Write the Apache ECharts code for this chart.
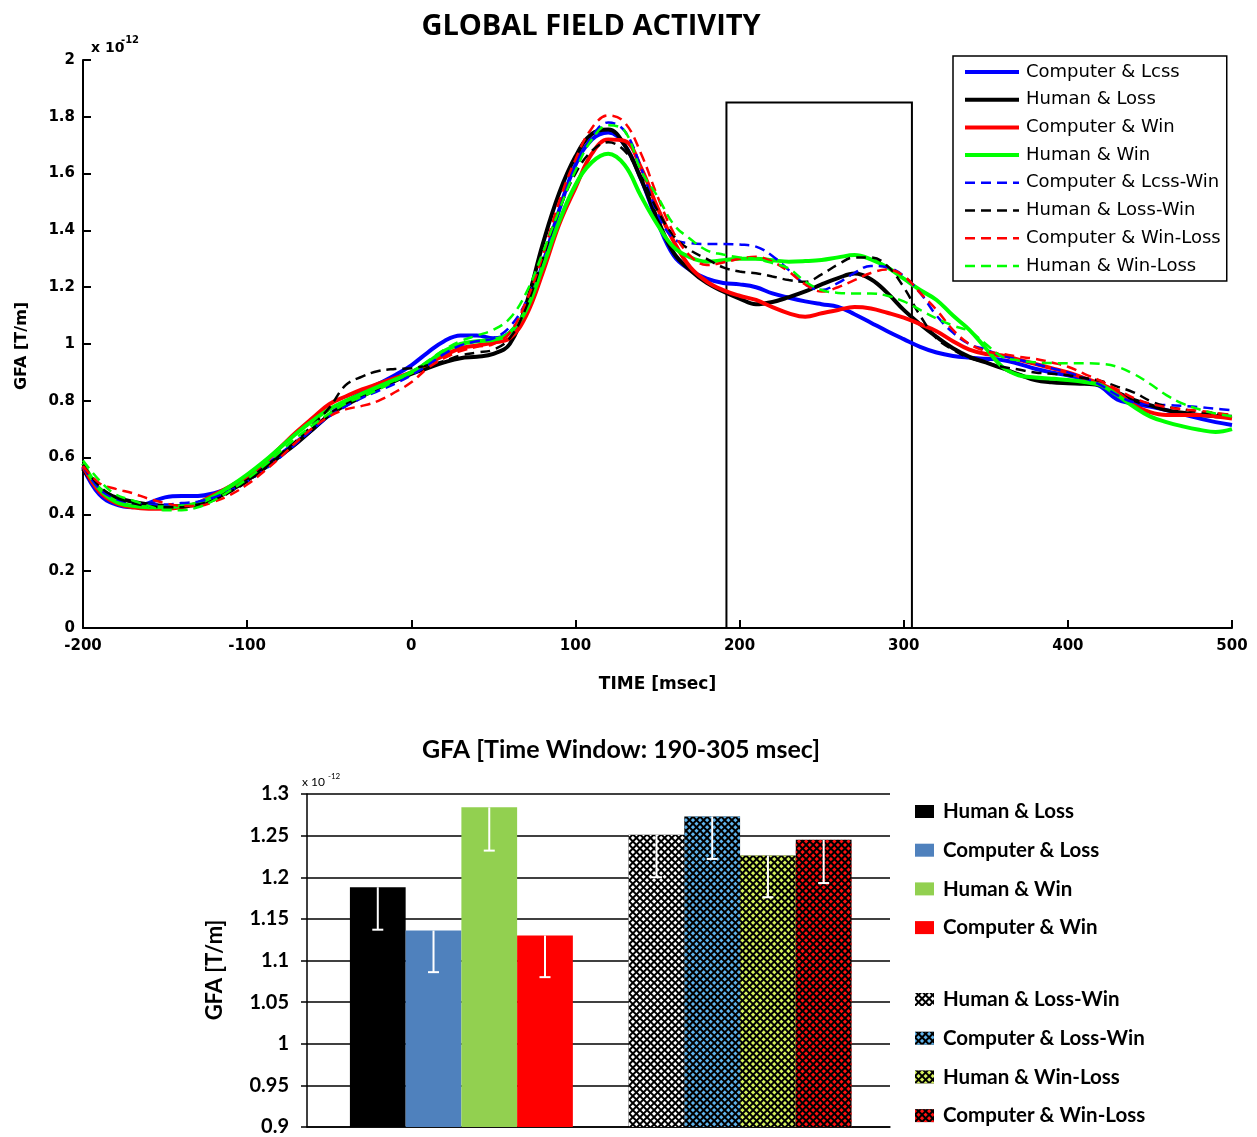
<!DOCTYPE html>
<html>
<head>
<meta charset="utf-8">
<title>Global Field Activity</title>
<script src="https://cdn.jsdelivr.net/npm/echarts@6/dist/echarts.min.js"></script>
<style>
  html, body { margin: 0; padding: 0; background: #fff; }
  #lines { width: 1257px; height: 712px; }
  #bars { width: 1257px; height: 425px; }
</style>
</head>
<body>
<div id="lines"></div>
<div id="bars"></div>
<script>
// time (msec), one sample every 10 ms
var times = [
  -200, -190, -180, -170, -160, -150, -140, -130, -120, -110,
  -100, -90, -80, -70, -60, -50, -40, -30, -20, -10,
  0, 10, 20, 30, 40, 50, 60, 70, 80, 90,
  100, 110, 120, 130, 140, 150, 160, 170, 180, 190,
  200, 210, 220, 230, 240, 250, 260, 270, 280, 290,
  300, 310, 320, 330, 340, 350, 360, 370, 380, 390,
  400, 410, 420, 430, 440, 450, 460, 470, 480, 490,
  500
];

// GFA values, x 10^-12 T/m
var compLoss = [
  0.565, 0.47, 0.435, 0.425, 0.44, 0.46, 0.465, 0.465, 0.475, 0.495,
  0.525, 0.565, 0.61, 0.655, 0.70, 0.75, 0.795, 0.83, 0.86, 0.89,
  0.925, 0.97, 1.01, 1.03, 1.03, 1.02, 1.04, 1.12, 1.28, 1.47,
  1.63, 1.72, 1.745, 1.70, 1.58, 1.43, 1.31, 1.26, 1.23, 1.215,
  1.21, 1.20, 1.178, 1.163, 1.15, 1.14, 1.131, 1.105, 1.075, 1.045,
  1.017, 0.99, 0.97, 0.958, 0.952, 0.948, 0.944, 0.93, 0.913, 0.90,
  0.89, 0.875, 0.85, 0.805, 0.79, 0.78, 0.767, 0.752, 0.738, 0.725,
  0.715
];
var humanLoss = [
  0.56, 0.49, 0.46, 0.445, 0.435, 0.43, 0.43, 0.435, 0.455, 0.485,
  0.52, 0.56, 0.605, 0.65, 0.70, 0.75, 0.785, 0.815, 0.845, 0.87,
  0.895, 0.915, 0.935, 0.95, 0.955, 0.965, 1.0, 1.14, 1.35, 1.53,
  1.66, 1.74, 1.755, 1.70, 1.58, 1.44, 1.32, 1.26, 1.215, 1.185,
  1.16, 1.14, 1.148, 1.165, 1.185, 1.21, 1.232, 1.248, 1.228, 1.18,
  1.12, 1.07, 1.025, 0.985, 0.955, 0.935, 0.915, 0.893, 0.873, 0.865,
  0.862, 0.86, 0.855, 0.83, 0.803, 0.785, 0.767, 0.758, 0.75, 0.746,
  0.744
];
var compWin = [
  0.57, 0.48, 0.44, 0.425, 0.42, 0.42, 0.425, 0.44, 0.47, 0.50,
  0.535, 0.58, 0.635, 0.69, 0.74, 0.788, 0.815, 0.84, 0.86, 0.88,
  0.90, 0.93, 0.96, 0.985, 0.995, 1.005, 1.02, 1.10, 1.25, 1.42,
  1.55, 1.67, 1.72, 1.715, 1.62, 1.48, 1.36, 1.27, 1.22, 1.19,
  1.17, 1.155, 1.13, 1.108, 1.096, 1.108, 1.12, 1.13, 1.125, 1.11,
  1.093, 1.07, 1.045, 1.01, 0.98, 0.965, 0.96, 0.945, 0.93, 0.915,
  0.90, 0.88, 0.86, 0.83, 0.785, 0.76, 0.75, 0.75, 0.75, 0.745,
  0.738
];
var humanWin = [
  0.58, 0.49, 0.445, 0.43, 0.425, 0.425, 0.43, 0.44, 0.465, 0.50,
  0.54, 0.585, 0.635, 0.685, 0.73, 0.77, 0.80, 0.825, 0.85, 0.875,
  0.90, 0.935, 0.975, 1.0, 1.01, 1.015, 1.04, 1.12, 1.27, 1.43,
  1.56, 1.64, 1.67, 1.63, 1.52, 1.42, 1.34, 1.305, 1.29, 1.295,
  1.30, 1.30, 1.295, 1.29, 1.292, 1.296, 1.305, 1.313, 1.298, 1.27,
  1.23, 1.19, 1.155, 1.10, 1.05, 0.985, 0.92, 0.89, 0.882, 0.878,
  0.873, 0.866, 0.855, 0.82, 0.78, 0.745, 0.725, 0.71, 0.698, 0.69,
  0.70
];
var compLossWin = [
  0.57, 0.49, 0.455, 0.44, 0.435, 0.435, 0.44, 0.445, 0.46, 0.485,
  0.515, 0.555, 0.60, 0.65, 0.70, 0.745, 0.78, 0.81, 0.835, 0.86,
  0.89, 0.925, 0.965, 0.995, 1.01, 1.02, 1.06, 1.15, 1.30, 1.47,
  1.62, 1.73, 1.78, 1.75, 1.62, 1.46, 1.37, 1.355, 1.352, 1.352,
  1.35, 1.343, 1.31, 1.26, 1.21, 1.19, 1.215, 1.25, 1.275, 1.27,
  1.24, 1.18, 1.10, 1.04, 1.0, 0.98, 0.96, 0.945, 0.93, 0.915,
  0.90, 0.88, 0.855, 0.82, 0.795, 0.787, 0.785, 0.782, 0.778, 0.772,
  0.767
];
var humanLossWin = [
  0.575, 0.50, 0.46, 0.44, 0.43, 0.425, 0.425, 0.435, 0.45, 0.48,
  0.515, 0.56, 0.61, 0.66, 0.715, 0.775, 0.855, 0.885, 0.905, 0.912,
  0.915, 0.925, 0.94, 0.96, 0.97, 0.98, 1.02, 1.13, 1.30, 1.47,
  1.60, 1.68, 1.71, 1.68, 1.59, 1.47, 1.38, 1.33, 1.30, 1.27,
  1.255, 1.249, 1.238, 1.225, 1.219, 1.245, 1.28, 1.305, 1.305, 1.275,
  1.20, 1.10, 1.02, 0.98, 0.95, 0.935, 0.92, 0.91, 0.90, 0.895,
  0.89, 0.88, 0.87, 0.85, 0.83, 0.80, 0.78, 0.77, 0.76, 0.755,
  0.75
];
var compWinLoss = [
  0.57, 0.51, 0.49, 0.475, 0.455, 0.44, 0.43, 0.43, 0.445, 0.47,
  0.505, 0.55, 0.60, 0.655, 0.705, 0.745, 0.77, 0.782, 0.80, 0.83,
  0.865, 0.915, 0.95, 0.975, 0.99, 1.0, 1.04, 1.15, 1.31, 1.50,
  1.65, 1.76, 1.805, 1.78, 1.67, 1.52, 1.39, 1.31, 1.278, 1.287,
  1.30, 1.307, 1.29, 1.255, 1.21, 1.185, 1.20, 1.225, 1.25, 1.262,
  1.24, 1.18, 1.12, 1.05, 1.0, 0.975, 0.965, 0.955, 0.948, 0.935,
  0.92, 0.895, 0.87, 0.84, 0.81, 0.79, 0.778, 0.77, 0.765, 0.757,
  0.75
];
var humanWinLoss = [
  0.59, 0.52, 0.47, 0.45, 0.43, 0.415, 0.415, 0.425, 0.45, 0.485,
  0.525, 0.57, 0.62, 0.67, 0.715, 0.755, 0.79, 0.815, 0.84, 0.87,
  0.90, 0.94, 0.98, 1.01, 1.03, 1.05, 1.09, 1.18, 1.32, 1.47,
  1.61, 1.72, 1.77, 1.75, 1.61, 1.52, 1.42, 1.37, 1.33, 1.315,
  1.305, 1.30, 1.285, 1.266, 1.22, 1.19, 1.18, 1.178, 1.178, 1.17,
  1.15, 1.12, 1.09, 1.065, 1.045, 1.0, 0.955, 0.942, 0.936, 0.933,
  0.932, 0.932, 0.93, 0.92, 0.895, 0.86, 0.82, 0.79, 0.77, 0.755,
  0.745
];

var lineNames = ['Computer & Lcss', 'Human & Loss', 'Computer & Win', 'Human & Win',
  'Computer & Lcss-Win', 'Human & Loss-Win', 'Computer & Win-Loss', 'Human & Win-Loss'];
var lineValues = [compLoss, humanLoss, compWin, humanWin,
  compLossWin, humanLossWin, compWinLoss, humanWinLoss];
var lineColors = ['#0000ff', '#000000', '#ff0000', '#00ff00',
  '#0000ff', '#000000', '#ff0000', '#00ff00'];

// analysis window frame as drawn (msec) and its height
var windowMs = [192, 305];
var windowTop = 1.85;

// bar chart: mean GFA in the window and the error bar length
var barNames = ['Human & Loss', 'Computer & Loss', 'Human & Win', 'Computer & Win',
  'Human & Loss-Win', 'Computer & Loss-Win', 'Human & Win-Loss', 'Computer & Win-Loss'];
var barValues = [1.188, 1.136, 1.284, 1.130, 1.251, 1.273, 1.226, 1.245];
var barErrors = [0.051, 0.050, 0.052, 0.050, 0.051, 0.051, 0.050, 0.052];
var barColors = ['#000000', '#4f81bd', '#92d050', '#ff0000',
  '#000000', '#000000', '#000000', '#000000'];
var hatchColors = [null, null, null, null, '#ffffff', '#5fb4ee', '#d6f25c', '#ff1010'];

var topFont = 'DejaVu Sans';
var barFont = 'Lato';

// ---------- top: GFA time course ----------
var lineChart = echarts.init(document.getElementById('lines'));

var lineSeries = lineValues.map(function (vals, i) {
  var s = {
    name: lineNames[i],
    type: 'line',
    smooth: 0.4,
    symbol: 'none',
    data: times.map(function (t, k) { return [t, vals[k]]; }),
    lineStyle: {
      color: lineColors[i],
      width: i < 4 ? 4 : 2.5,
      type: i < 4 ? 'solid' : [10, 6]
    },
    itemStyle: { color: lineColors[i] },
    z: i < 4 ? 3 : 4
  };
  if (i === 0) {
    s.markArea = {
      silent: true,
      itemStyle: { color: 'rgba(0,0,0,0)', borderColor: '#000', borderWidth: 2 },
      data: [[{ coord: [windowMs[0], windowTop] }, { coord: [windowMs[1], 0] }]]
    };
  }
  return s;
});

lineChart.setOption({
  animation: false,
  backgroundColor: '#fff',
  grid: { left: 83, top: 60, width: 1149, height: 568 },
  legend: {
    data: lineNames,
    orient: 'vertical',
    left: 953,
    top: 56,
    padding: [7, 6, 6, 10],
    itemWidth: 54,
    itemHeight: 14,
    itemGap: 9.7,
    borderColor: '#000',
    borderWidth: 1.5,
    backgroundColor: '#fff',
    selectedMode: false,
    itemStyle: { opacity: 0 },
    lineStyle: { width: 'inherit' },
    textStyle: { fontFamily: topFont, fontSize: 18, lineHeight: 18, color: '#000', padding: [0, 0, 0, 2] }
  },
  xAxis: {
    type: 'value',
    min: -200,
    max: 500,
    interval: 100,
    name: 'TIME [msec]',
    nameLocation: 'middle',
    nameGap: 48,
    nameTextStyle: { fontFamily: topFont, fontWeight: 'bold', fontSize: 17, color: '#000' },
    axisLine: { onZero: false, lineStyle: { color: '#000', width: 2 } },
    axisTick: { inside: true, length: 8, lineStyle: { color: '#000', width: 2 } },
    splitLine: { show: false },
    axisLabel: { fontFamily: topFont, fontWeight: 'bold', fontSize: 15, color: '#000', margin: 11 }
  },
  yAxis: {
    type: 'value',
    min: 0,
    max: 2,
    interval: 0.2,
    axisLine: { show: true, onZero: false, lineStyle: { color: '#000', width: 2 } },
    axisTick: { show: true, inside: true, length: 8, lineStyle: { color: '#000', width: 2 } },
    splitLine: { show: false },
    axisLabel: { fontFamily: topFont, fontWeight: 'bold', fontSize: 15, color: '#000', margin: 8 }
  },
  graphic: [
    { type: 'text', x: 591, y: 27, style: { text: 'GLOBAL FIELD ACTIVITY', align: 'center', verticalAlign: 'middle',
      fontFamily: 'Open Sans', fontWeight: 'bold', fontSize: 29, fill: '#000' } },
    { type: 'text', x: 22, y: 346, rotation: Math.PI / 2, style: { text: 'GFA [T/m]', align: 'center', verticalAlign: 'middle',
      fontFamily: topFont, fontWeight: 'bold', fontSize: 16, fill: '#000' } },
    { type: 'text', x: 91, y: 48, style: { text: 'x 10', verticalAlign: 'middle',
      fontFamily: topFont, fontWeight: 'bold', fontSize: 14, fill: '#000' } },
    { type: 'text', x: 121, y: 40, style: { text: '-12', verticalAlign: 'middle',
      fontFamily: topFont, fontWeight: 'bold', fontSize: 10, fill: '#000' } }
  ],
  series: lineSeries
});

// ---------- bottom: mean GFA in the window ----------
var barChart = echarts.init(document.getElementById('bars'));

function barSlot(i) {
  // two groups of four, one empty slot between them
  return i < 4 ? i + 1 : i + 2;
}

var barSeries = barNames.map(function (name, i) {
  var style = { color: barColors[i] };
  if (hatchColors[i]) {
    style.decal = {
      symbol: 'rect',
      symbolSize: 1,
      dashArrayX: [3, 2],
      dashArrayY: [3, 2],
      rotation: Math.PI / 4,
      color: hatchColors[i]
    };
  }
  return {
    name: name,
    type: 'bar',
    data: [[barSlot(i), barValues[i]]],
    barGap: '-100%',
    barCategoryGap: '0%',
    itemStyle: style
  };
});

barSeries.push({
  type: 'custom',
  silent: true,
  z: 5,
  data: barValues.map(function (v, i) { return [barSlot(i), v, v - barErrors[i]]; }),
  encode: { x: 0, y: [1, 2] },
  renderItem: function (params, api) {
    var top = api.coord([api.value(0), api.value(1)]);
    var low = api.coord([api.value(0), api.value(2)]);
    var half = 5.5;
    var st = { stroke: '#fff', lineWidth: 2 };
    return {
      type: 'group',
      children: [
        { type: 'line', shape: { x1: top[0], y1: top[1], x2: low[0], y2: low[1] }, style: st },
        { type: 'line', shape: { x1: low[0] - half, y1: low[1], x2: low[0] + half, y2: low[1] }, style: st }
      ]
    };
  }
});

var barLegendText = { fontFamily: barFont, fontWeight: 'bold', fontSize: 20.5, lineHeight: 20, color: '#000', padding: [0, 0, 0, 4] };

barChart.setOption({
  animation: false,
  backgroundColor: '#fff',
  grid: { left: 307, top: 82, width: 583, height: 336 },
  legend: [
    {
      data: barNames.slice(0, 4), orient: 'vertical', left: 915, top: 89, padding: 0,
      icon: 'rect', itemWidth: 19, itemHeight: 13, itemGap: 17.7, selectedMode: false, textStyle: barLegendText
    },
    {
      data: barNames.slice(4), orient: 'vertical', left: 915, top: 277, padding: 0,
      icon: 'rect', itemWidth: 19, itemHeight: 13, itemGap: 17.7, selectedMode: false, textStyle: barLegendText
    }
  ],
  xAxis: {
    type: 'value',
    min: -0.27,
    max: 10.19,
    axisLine: { show: true, onZero: false, lineStyle: { color: '#000', width: 1.5 } },
    axisTick: { show: false },
    axisLabel: { show: false },
    splitLine: { show: false }
  },
  yAxis: {
    type: 'value',
    min: 0.9,
    max: 1.3,
    interval: 0.05,
    axisLine: { show: true, onZero: false, lineStyle: { color: '#000', width: 1.5 } },
    axisTick: { show: true, length: 6, lineStyle: { color: '#000', width: 1.5 } },
    splitLine: { show: true, lineStyle: { color: '#000', width: 1.5 } },
    axisLabel: { fontFamily: barFont, fontWeight: 'bold', fontSize: 20, color: '#000', margin: 18 }
  },
  graphic: [
    { type: 'text', x: 621, y: 38, style: { text: 'GFA [Time Window: 190-305 msec]', align: 'center', verticalAlign: 'middle',
      fontFamily: barFont, fontWeight: 'bold', fontSize: 25, fill: '#000' } },
    { type: 'text', x: 215, y: 258, rotation: Math.PI / 2, style: { text: 'GFA [T/m]', align: 'center', verticalAlign: 'middle',
      fontFamily: barFont, fontWeight: 'bold', fontSize: 22, fill: '#000' } },
    { type: 'text', x: 302, y: 70, style: { text: 'x 10', verticalAlign: 'middle',
      fontFamily: barFont, fontSize: 12, fill: '#000' } },
    { type: 'text', x: 328, y: 64, style: { text: '-12', verticalAlign: 'middle',
      fontFamily: barFont, fontSize: 8, fill: '#000' } }
  ],
  series: barSeries
});
</script>
</body>
</html>
